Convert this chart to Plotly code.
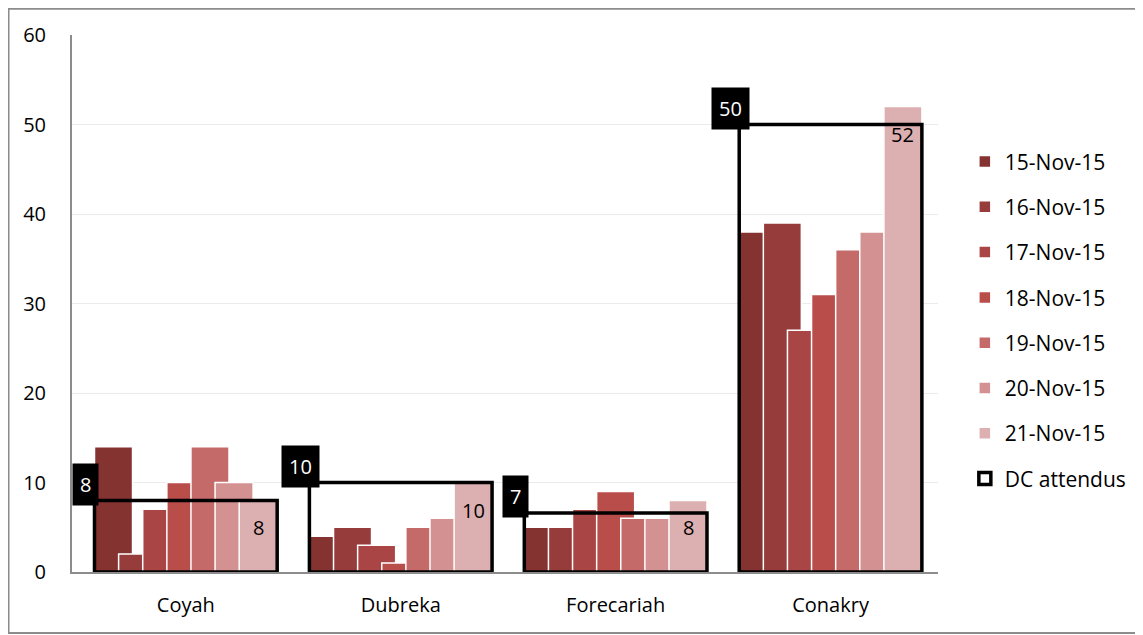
import plotly.graph_objects as go

categories = ["Coyah", "Dubreka", "Forecariah", "Conakry"]
dates = ["15-Nov-15", "16-Nov-15", "17-Nov-15", "18-Nov-15", "19-Nov-15", "20-Nov-15", "21-Nov-15"]
values = {
    "15-Nov-15": [14, 4, 5, 38],
    "16-Nov-15": [2, 5, 5, 39],
    "17-Nov-15": [7, 3, 7, 27],
    "18-Nov-15": [10, 1, 9, 31],
    "19-Nov-15": [14, 5, 6, 36],
    "20-Nov-15": [10, 6, 6, 38],
    "21-Nov-15": [8, 10, 8, 52],
}
dc_attendus = [8, 10, 6.6, 50]
colors = ["#843331", "#963d3b", "#a94544", "#b94d4a", "#c46a69", "#d39191", "#dcafb0"]

FONT = "Open Sans"
W = 0.177      # width of each date bar (category units)
S = 0.1122     # step between overlapping bars
X0 = -0.425    # left edge of group

fig = go.Figure()
for i, d in enumerate(dates):
    fig.add_trace(go.Bar(
        x=categories, y=values[d], name=d,
        width=W, offset=X0 + i * S,
        marker=dict(color=colors[i], line=dict(color="white", width=1.5)),
        legendgroup=d,
    ))

fig.add_trace(go.Bar(
    x=categories, y=dc_attendus, name="DC attendus",
    width=-2 * X0, offset=X0,
    marker=dict(color="rgba(0,0,0,0)", line=dict(color="black", width=3.5)),
    legendgroup="dc",
))

annotations = []
last = dates[-1]
for k, c in enumerate(categories):
    # label of the last date, inside the top of its bar
    annotations.append(dict(
        x=k + X0 + 6 * S + W / 2, y=values[last][k], xref="x", yref="y",
        text=f"{values[last][k]}", showarrow=False, yanchor="top", yshift=-12,
        font=dict(family=FONT, size=20, color="black"),
    ))
    # DC attendus label in black box at top-left corner
    annotations.append(dict(
        x=k + X0, y=dc_attendus[k], xref="x", yref="y",
        text=f"{dc_attendus[k]:.0f}", showarrow=False,
        xanchor="center", yanchor="middle", xshift=-9, yshift=16,
        bgcolor="black", borderpad=7,
        font=dict(family=FONT, size=20, color="white"),
    ))

fig.update_layout(
    width=1135, height=627,
    margin=dict(l=64, r=205, t=27, b=63),
    paper_bgcolor="white", plot_bgcolor="white",
    barmode="overlay",
    font=dict(family=FONT, size=20, color="black"),
    showlegend=True,
    legend=dict(x=1.031, y=0.802, xanchor="left", yanchor="top",
                font=dict(family=FONT, size=21, color="black"),
                tracegroupgap=15, itemwidth=30, bgcolor="rgba(0,0,0,0)"),
    annotations=annotations,
    shapes=[dict(type="rect", xref="paper", yref="paper",
                 x0=-0.0733, x1=1.26, y0=-0.1136, y1=1.049,
                 line=dict(color="#8c8c8c", width=2), layer="below")],
)
fig.update_yaxes(range=[0, 60], dtick=10, showgrid=True, gridcolor="#ebebeb", gridwidth=1,
                 showline=True, linecolor="#8c8c8c", linewidth=2, zeroline=False,
                 ticks="", ticklabelstandoff=20, tickfont=dict(family=FONT, size=20))
fig.update_xaxes(showline=True, linecolor="#8c8c8c", linewidth=2, ticks="",
                 ticklabelstandoff=14, tickfont=dict(family=FONT, size=20))

fig.write_html("out.html")
